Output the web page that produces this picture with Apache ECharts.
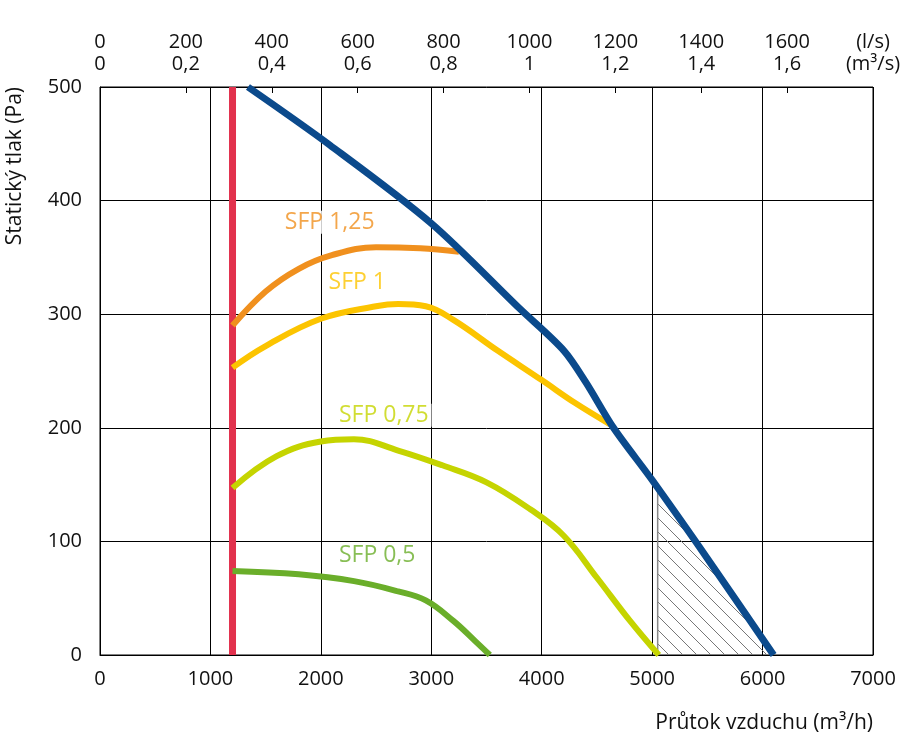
<!DOCTYPE html>
<html><head><meta charset="utf-8">
<script src="https://cdn.jsdelivr.net/npm/echarts@6/dist/echarts.min.js"></script>
<style>html,body{margin:0;background:#fff}#c{width:916px;height:742px}</style>
</head><body><div id="c"></div>
<script>
// data: [m3/h, Pa]
var redLine = [[1200, 0], [1200, 500]];
var fanCurve = [[1340,500],[2080,449],[3000,380],[3800,305],[4200,268],[4400,240],[4650,200],[5000,154],[5500,85],[6100,0]];
var sfp125 = [[1200,290],[1500,320],[1800,340],[2100,352],[2500,359],[2900,358],[3250,355]];
var sfp1 = [[1200,253],[1500,272],[2000,296],[2500,307],[2700,309],[2950,307],[3200,295],[3600,268],[4000,242],[4300,222],[4620,203]];
var sfp075 = [[1200,147],[1600,175],[2000,188],[2300,190],[2700,180],[3100,167],[3500,152],[3900,128],[4200,105],[4500,68],[4800,30],[5060,0]];
var sfp05 = [[1200,74],[1800,71],[2300,65],[2700,56],[2950,48],[3200,30],[3400,12],[3530,0]];
var hatchEdge = [[5050,0],[5050,148]];
var hatchTop = [[5050,148],[6100,0]];
var sfpLabels = [['SFP 1,25', 2080, 381], ['SFP 1', 2330, 328], ['SFP 0,75', 2570, 211], ['SFP 0,5', 2510, 88]];
var sfpColors = ['#f0901e', '#fcc400', '#c5d400', '#6aae2a'];
var topTicks = {0:'0\n0', 200:'200\n0,2', 400:'400\n0,4', 600:'600\n0,6', 800:'800\n0,8', 1000:'1000\n1', 1200:'1200\n1,2', 1400:'1400\n1,4', 1600:'1600\n1,6', 1800:'(l/s)\n(m³/s)'};

var cv = document.createElement('canvas');
cv.width = 14; cv.height = 14;
var cx = cv.getContext('2d');
cx.strokeStyle = '#777'; cx.lineWidth = 1;
cx.beginPath(); cx.moveTo(0,0); cx.lineTo(14,14); cx.moveTo(-7,7); cx.lineTo(7,21); cx.moveTo(7,-7); cx.lineTo(21,7); cx.stroke();

var font = 'Open Sans';
function curve(data, color, w, smooth) {
    return {type: 'line', data: data, xAxisIndex: 0, symbol: 'none', smooth: smooth, lineStyle: {color: color, width: w}, z: 3};
}
var series = [
    {type: 'line', data: hatchTop, symbol: 'none', lineStyle: {width: 0}, areaStyle: {color: {image: cv, repeat: 'repeat'}, opacity: 1}, z: 1},
    {type: 'line', data: hatchEdge, symbol: 'none', lineStyle: {color: '#888', width: 1.5}, z: 1},
    curve(redLine, '#e2314d', 7, false),
    curve(sfp125, sfpColors[0], 6, 0.4),
    curve(sfp1, sfpColors[1], 6, 0.4),
    curve(sfp075, sfpColors[2], 6, 0.4),
    curve(sfp05, sfpColors[3], 6, 0.4),
    curve(fanCurve, '#0b4a8c', 7, 0.3)
];
for (var i = 0; i < sfpLabels.length; i++) {
    series.push({type: 'scatter', symbolSize: 0, z: 4, data: [[sfpLabels[i][1], sfpLabels[i][2]]],
        label: {show: true, position: 'inside', formatter: sfpLabels[i][0], color: sfpColors[i], fontSize: 23, fontFamily: font, backgroundColor: '#fff', padding: [0, 3]}});
}

var chart = echarts.init(document.getElementById('c'));
chart.setOption({
    animation: false,
    grid: {left: 100, right: 43, top: 87, bottom: 87, show: true, borderColor: '#000', borderWidth: 1},
    xAxis: [
        {type: 'value', min: 0, max: 7000, interval: 1000, position: 'bottom',
         axisLine: {lineStyle: {color: '#000'}}, axisTick: {show: false},
         splitLine: {lineStyle: {color: '#000', width: 1}},
         axisLabel: {color: '#111', fontSize: 20, fontFamily: font, margin: 14, formatter: function (v) { return String(v); }},
         name: 'Průtok vzduchu (m³/h)', nameLocation: 'end', nameGap: 0,
         nameTextStyle: {color: '#111', fontSize: 21, fontFamily: font, align: 'right', verticalAlign: 'top', padding: [58, 0, 0, 0]}},
        {type: 'value', min: 0, max: 1800, interval: 200, position: 'top',
         axisLine: {show: false}, axisTick: {show: true, inside: true, length: 6, lineStyle: {color: '#000'}}, splitLine: {show: false},
         axisLabel: {color: '#111', fontSize: 20, fontFamily: font, lineHeight: 22, margin: 12, formatter: function (v) { return topTicks[v] || ''; }}}
    ],
    yAxis: {type: 'value', min: 0, max: 500, interval: 100,
        axisLine: {lineStyle: {color: '#000'}}, axisTick: {show: false},
        splitLine: {lineStyle: {color: '#000', width: 1}},
        axisLabel: {color: '#111', fontSize: 20, fontFamily: font, margin: 18},
        name: 'Statický tlak (Pa)', nameLocation: 'end', nameRotate: 90, nameGap: 0,
        nameTextStyle: {color: '#111', fontSize: 21, fontFamily: font, align: 'right', verticalAlign: 'bottom', padding: [0, 0, 74, 0]}},
    series: series
});
</script>
</body></html>
